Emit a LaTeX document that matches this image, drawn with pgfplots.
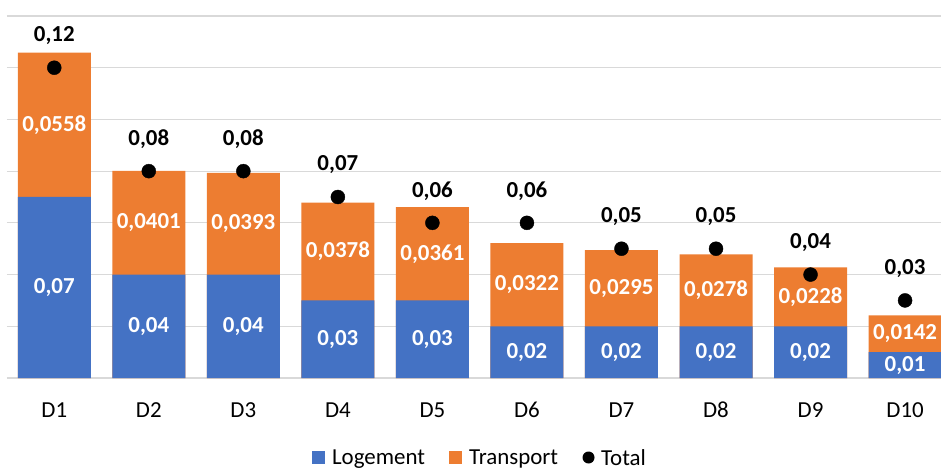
\documentclass[border=0pt]{standalone}
\usepackage{fontspec}
\setmainfont{Carlito}
\usepackage{pgfplots}
\pgfplotsset{compat=1.18}
\usepackage{pgfplotstable}
\definecolor{logblue}{HTML}{4472C4}
\definecolor{traorange}{HTML}{ED7D31}
\definecolor{gridgray}{HTML}{D9D9D9}
\pgfplotstableread{
x L T Tot
0 0.07 0.0558 0.12
1 0.04 0.0401 0.08
2 0.04 0.0393 0.08
3 0.03 0.0378 0.07
4 0.03 0.0361 0.06
5 0.02 0.0322 0.06
6 0.02 0.0295 0.05
7 0.02 0.0278 0.05
8 0.02 0.0228 0.04
9 0.01 0.0142 0.03
}\datatable
\newcommand{\bigfont}{\fontsize{23}{27}\selectfont}
\begin{document}
\begin{tikzpicture}
\path[use as bounding box] (-7bp,-93bp) rectangle (934bp,378bp);
\begin{axis}[
  at={(0,0)}, anchor=south west,
  scale only axis, width=934bp, height=362bp,
  xmin=-0.5, xmax=9.38, ymin=0, ymax=0.14,
  xtick={0,1,2,3,4,5,6,7,8,9},
  xticklabels={D1,D2,D3,D4,D5,D6,D7,D8,D9,D10},
  ytick={0,0.02,0.04,0.06,0.08,0.1,0.12,0.14}, yticklabels={},
  ymajorgrids, grid style={gridgray, line width=1.2bp},
  axis line style={draw=none}, major tick length=0pt,
  xticklabel style={anchor=base, yshift=-39bp, font=\bigfont},
  legend columns=3,
  legend style={at={(0.5,0)}, anchor=center, xshift=6bp, yshift=-80bp,
    draw=none, fill=none, font=\bigfont,
    /tikz/every even column/.append style={column sep=22bp}},
]
\addlegendimage{legend image code/.code={\fill[logblue, draw=none] (0bp,-6bp) rectangle (13bp,7bp);\path[draw=none, fill=none] (0bp,0bp) -- (18bp,0bp);}}
\addlegendentry{Logement}
\addlegendimage{legend image code/.code={\fill[traorange, draw=none] (0bp,-6bp) rectangle (13bp,7bp);\path[draw=none, fill=none] (0bp,0bp) -- (18bp,0bp);}}
\addlegendentry{Transport}
\addlegendimage{legend image code/.code={\fill[black, draw=none] (6.5bp,0.5bp) circle (6bp);\path[draw=none, fill=none] (0bp,0bp) -- (17bp,0bp);}}
\addlegendentry{Total}

\addplot[ybar, bar width=73bp, bar shift=0pt, fill=traorange, draw=none, forget plot]
  table[x=x, y expr=\thisrow{L}+\thisrow{T}] {\datatable};
\addplot[ybar, bar width=73bp, bar shift=0pt, fill=logblue, draw=none, forget plot]
  table[x=x, y=L] {\datatable};

\addplot[draw=none, forget plot, point meta=\thisrow{L},
  nodes near coords={\pgfmathprintnumber[fixed,fixed zerofill,precision=2,use comma,assume math mode=true]{\pgfplotspointmeta}},
  every node near coord/.append style={anchor=center, text=white, font=\bfseries\bigfont}]
  table[x=x, y expr=\thisrow{L}/2] {\datatable};
\addplot[draw=none, forget plot, point meta=\thisrow{T},
  nodes near coords={\pgfmathprintnumber[fixed,fixed zerofill,precision=4,use comma,assume math mode=true]{\pgfplotspointmeta}},
  every node near coord/.append style={anchor=center, text=white, font=\bfseries\bigfont}]
  table[x=x, y expr=\thisrow{L}+\thisrow{T}/2] {\datatable};

\addplot[only marks, mark=*, mark size=7bp, black, forget plot, point meta=\thisrow{Tot},
  nodes near coords={\pgfmathprintnumber[fixed,fixed zerofill,precision=2,use comma,assume math mode=true]{\pgfplotspointmeta}},
  every node near coord/.append style={anchor=center, yshift=32bp, text=black, font=\bfseries\bigfont}]
  table[x=x, y=Tot] {\datatable};
\end{axis}
\end{tikzpicture}
\end{document}
